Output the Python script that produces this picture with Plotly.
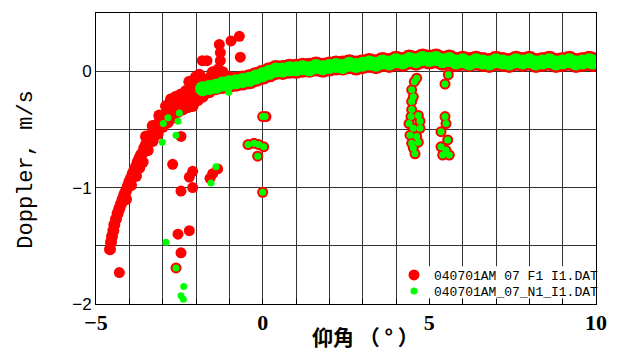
import plotly.graph_objects as go

# ---------------- data ----------------
# main dense band (both files), elevation angle (deg) vs Doppler (m/s)
band_x = [-1.8, -1.6, -1.4, -1.2, -1.0, -0.8, -0.6, -0.4, -0.2, 0.0, 0.2, 0.4, 0.6, 0.8,
          1.0, 1.2, 1.4, 1.6, 1.8, 2.0, 2.2, 2.4, 2.6, 2.8, 3.0, 3.2, 3.4, 3.6, 3.8,
          4.0, 4.2, 4.4, 4.6, 4.8, 5.0, 5.2, 5.4, 5.6, 5.8, 6.0, 6.2, 6.4, 6.6, 6.8,
          7.0, 7.2, 7.4, 7.6, 7.8, 8.0, 8.2, 8.4, 8.6, 8.8, 9.0, 9.2, 9.4, 9.6, 9.8, 9.9]
f1_band_y = [-0.14, -0.13, -0.12, -0.11, -0.10, -0.09, -0.08, -0.07, -0.05, -0.03, -0.01, 0.01, 0.01, 0.02,
             0.02, 0.03, 0.03, 0.04, 0.03, 0.04, 0.05, 0.05, 0.06, 0.05, 0.06, 0.07, 0.06, 0.08, 0.07,
             0.09, 0.08, 0.10, 0.09, 0.11, 0.10, 0.11, 0.09, 0.10, 0.08, 0.09, 0.08, 0.09, 0.08, 0.07,
             0.09, 0.08, 0.07, 0.09, 0.08, 0.09, 0.07, 0.08, 0.09, 0.07, 0.08, 0.09, 0.07, 0.08, 0.09, 0.08]
n1_band_y = [-0.15, -0.14, -0.13, -0.11, -0.10, -0.09, -0.08, -0.07, -0.05, -0.03, -0.01, 0.01, 0.01, 0.02,
             0.02, 0.03, 0.02, 0.04, 0.03, 0.04, 0.05, 0.04, 0.06, 0.05, 0.06, 0.07, 0.06, 0.08, 0.07,
             0.09, 0.08, 0.10, 0.09, 0.11, 0.10, 0.11, 0.09, 0.10, 0.08, 0.09, 0.07, 0.09, 0.08, 0.07,
             0.09, 0.08, 0.07, 0.09, 0.08, 0.09, 0.07, 0.08, 0.09, 0.07, 0.08, 0.09, 0.07, 0.08, 0.09, 0.08]

# F1 low-elevation branch
f1_branch_x = [-4.58, -4.55, -4.52, -4.48, -4.45, -4.40, -4.35, -4.30, -4.25, -4.20, -4.15, -4.10,
               -4.05, -4.00, -3.95, -3.90, -3.85, -3.80, -3.75, -3.70, -3.65, -3.60, -3.55, -3.50,
               -3.45, -3.40, -3.35, -3.30, -3.25, -3.20, -3.15, -3.10, -3.05, -3.00, -2.90, -2.80,
               -2.70, -2.60, -2.50, -2.40, -2.30, -2.20, -2.10, -2.00, -1.90, -1.80, -1.70, -1.60,
               -1.50, -1.40, -1.30, -1.20, -1.10, -1.00,
               -3.50, -3.30, -3.10, -2.90, -2.75, -2.60, -2.45, -2.30, -2.10, -1.95, -1.80, -1.60,
               -1.40, -1.20, -2.20, -2.00, -1.90, -1.50,
               -4.10, -3.95, -3.80, -3.70, -3.60, -3.45, -3.30, -3.15, -3.00, -2.85, -2.70, -2.55,
               -2.40, -2.25, -2.10, -1.95, -1.80, -1.60, -1.40, -1.20]
f1_branch_y = [-1.53, -1.47, -1.42, -1.37, -1.32, -1.27, -1.22, -1.18, -1.14, -1.10, -1.06, -1.03,
               -0.99, -0.95, -0.92, -0.88, -0.85, -0.82, -0.78, -0.75, -0.72, -0.70, -0.66, -0.63,
               -0.61, -0.60, -0.56, -0.53, -0.51, -0.48, -0.46, -0.44, -0.42, -0.41, -0.37, -0.34,
               -0.31, -0.29, -0.27, -0.25, -0.23, -0.21, -0.20, -0.18, -0.16, -0.14, -0.13, -0.11,
               -0.10, -0.08, -0.07, -0.06, -0.06, -0.05,
               -0.56, -0.47, -0.38, -0.30, -0.24, -0.22, -0.20, -0.17, -0.14, -0.08, -0.07, -0.06,
               -0.02, -0.01, -0.09, -0.05, -0.03, -0.01,
               -1.10, -0.98, -0.90, -0.83, -0.78, -0.68, -0.60, -0.54, -0.48, -0.44, -0.40, -0.35,
               -0.33, -0.31, -0.30, -0.25, -0.22, -0.18, -0.15, -0.12]

# scattered echoes
f1_x = [-4.30, -2.45, -2.70, -2.10, -2.20, -2.45, -2.10, -1.35, -1.50, -1.58, -2.54, -2.20, -2.45, -2.60,
        -1.30, -1.27, -1.27, -1.33, -0.95, -0.70, -0.67, -1.81, -1.67,
        0.00, 0.10, -0.44, -0.26, -0.12, 0.03, -0.15, 0.00,
        4.62, 4.55, 4.47, 4.52, 4.47, 4.47, 4.45, 4.67, 4.39, 4.72, 4.52, 4.72, 4.42, 4.62, 4.47, 4.67, 4.52, 4.57,
        5.57, 5.47, 5.47, 5.50, 5.35, 5.55, 5.35, 5.50, 5.40, 5.60]
f1_y = [-1.73, -0.56, -0.80, -0.86, -0.91, -1.03, -1.00, -0.84, -0.88, -0.92, -1.40, -1.37, -1.56, -1.69,
        0.23, 0.16, 0.09, 0.02, 0.26, 0.30, 0.12, 0.09, 0.09,
        -0.39, -0.39, -0.63, -0.62, -0.63, -0.65, -0.73, -1.04,
        -0.06, -0.09, -0.16, -0.22, -0.26, -0.33, -0.39, -0.38, -0.45, -0.43, -0.49, -0.49, -0.55, -0.56, -0.62, -0.61, -0.66, -0.71,
        -0.03, -0.11, -0.39, -0.45, -0.52, -0.59, -0.65, -0.68, -0.72, -0.72]

n1_x = [-2.84, -2.98, -3.01, -2.60, -2.50, -2.54, -1.02, -1.40, -1.55, -2.90, -2.60, -2.37, -2.45, -2.38,
        0.00, 0.07, -0.44, -0.26, -0.12, 0.03, -0.15, 0.00,
        4.62, 4.55, 4.47, 4.52, 4.47, 4.47, 4.45, 4.67, 4.39, 4.72, 4.52, 4.72, 4.42, 4.62, 4.47, 4.67, 4.52, 4.57,
        5.57, 5.47, 5.47, 5.50, 5.35, 5.55, 5.35, 5.50, 5.40, 5.60]
n1_y = [-0.40, -0.45, -0.61, -0.55, -0.36, -0.43, -0.18, -0.82, -0.96, -1.47, -1.69, -1.85, -1.93, -1.96,
        -0.39, -0.39, -0.63, -0.62, -0.63, -0.65, -0.73, -1.04,
        -0.06, -0.09, -0.16, -0.22, -0.26, -0.33, -0.39, -0.38, -0.45, -0.43, -0.49, -0.49, -0.55, -0.56, -0.62, -0.61, -0.66, -0.71,
        -0.03, -0.11, -0.39, -0.45, -0.52, -0.59, -0.65, -0.68, -0.72, -0.72]

f1_name = "040701AM 07 F1 I1.DAT"
n1_name = "040701AM_07_N1_I1.DAT"

x_tickvals = [-5, -4, -3, -2, -1, 0, 1, 2, 3, 4, 5, 6, 7, 8, 9, 10]
x_ticktext = ["−5", "", "", "", "", "0", "", "", "", "", "5", "", "", "", "", "10"]
y_tickvals = [-2, -1.5, -1, -0.5, 0, 0.5]
y_ticktext = ["−2", "", "−1", "", "0", ""]

RED = "#ff0000"
GREEN = "#00ff00"

fig = go.Figure()
fig.add_trace(go.Scatter(x=band_x, y=f1_band_y, mode="markers", showlegend=False,
                         marker=dict(color=RED, size=20, line=dict(width=0)), hoverinfo="skip"))
fig.add_trace(go.Scatter(x=f1_branch_x, y=f1_branch_y, mode="markers", showlegend=False,
                         marker=dict(color=RED, size=12, line=dict(width=0))))
fig.add_trace(go.Scatter(x=f1_x, y=f1_y, mode="markers", name=f1_name, legend="legend",
                         marker=dict(color=RED, size=11, line=dict(width=0))))
fig.add_trace(go.Scatter(x=band_x, y=n1_band_y, mode="markers", showlegend=False,
                         marker=dict(color=GREEN, size=15, line=dict(width=0))))
fig.add_trace(go.Scatter(x=n1_x, y=n1_y, mode="markers", name=n1_name, legend="legend2",
                         marker=dict(color=GREEN, size=7, line=dict(width=0))))

legend_font = dict(family="Liberation Mono", size=13, color="black")
fig.update_layout(
    width=619, height=352,
    margin=dict(l=96, r=13, t=13, b=48),
    paper_bgcolor="white", plot_bgcolor="white",
    legend=dict(x=0.596, y=0.0997, xanchor="left", yanchor="middle",
                bgcolor="rgba(0,0,0,0)", borderwidth=0, font=legend_font),
    legend2=dict(x=0.596, y=0.0447, xanchor="left", yanchor="middle",
                 bgcolor="rgba(0,0,0,0)", borderwidth=0, font=legend_font),
    shapes=[dict(type="rect", xref="paper", yref="paper", layer="above",
                 x0=0.615, x1=0.998, y0=0.02, y1=0.13,
                 fillcolor="white", line=dict(width=0))],
    annotations=[
        dict(text="仰角 （ ° ）", xref="paper", yref="paper", x=0.539, y=-0.11,
             xanchor="center", yanchor="middle", showarrow=False,
             font=dict(family="Noto Sans CJK JP", size=21, color="black", weight="bold")),
        dict(text="Doppler, m/s", xref="paper", yref="paper", x=-0.139, y=0.46,
             xanchor="center", yanchor="middle", showarrow=False, textangle=-90,
             font=dict(family="Liberation Mono", size=22, color="black")),
    ],
)
fig.update_xaxes(range=[-5, 10], tickvals=x_tickvals, ticktext=x_ticktext,
                 showgrid=True, gridcolor="#333333", gridwidth=1,
                 showline=True, linecolor="black", linewidth=1, mirror=True,
                 ticks="inside", ticklen=5, tickcolor="black", zeroline=False,
                 ticklabeloverflow="allow", ticklabelstandoff=-1,
                 tickfont=dict(family="Liberation Serif", size=22, color="black", weight="bold"))
fig.update_yaxes(range=[-2, 0.5], tickvals=y_tickvals, ticktext=y_ticktext,
                 showgrid=True, gridcolor="#333333", gridwidth=1,
                 showline=True, linecolor="black", linewidth=1, mirror=True,
                 ticks="", zeroline=False,
                 tickfont=dict(family="Liberation Sans", size=17, color="black"))

fig.write_html("out.html")
